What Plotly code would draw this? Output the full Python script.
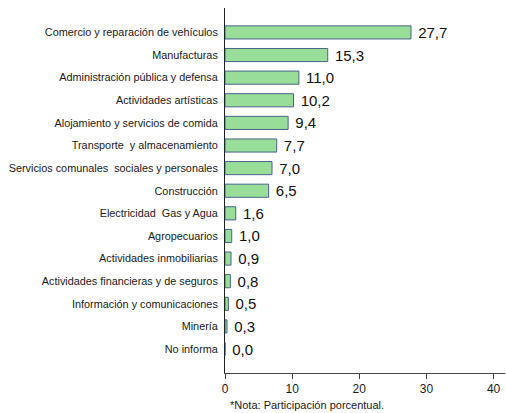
import plotly.graph_objects as go

categorias = [
    "Comercio y reparación de vehículos",
    "Manufacturas",
    "Administración pública y defensa",
    "Actividades artísticas",
    "Alojamiento y servicios de comida",
    "Transporte\u00a0 y almacenamiento",
    "Servicios comunales\u00a0 sociales y personales",
    "Construcción",
    "Electricidad\u00a0 Gas y Agua",
    "Agropecuarios",
    "Actividades inmobiliarias",
    "Actividades financieras y de seguros",
    "Información y comunicaciones",
    "Minería",
    "No informa",
]
valores = [27.7, 15.3, 11.0, 10.2, 9.4, 7.7, 7.0, 6.5, 1.6, 1.0, 0.9, 0.8, 0.5, 0.3, 0.0]
ticks_x = [0, 10, 20, 30, 40]
nota = "*Nota: Participación porcentual."

etiquetas = [" " + f"{v:.1f}".replace(".", ",") for v in valores]
fuente = "Liberation Sans, Arial, sans-serif"

fig = go.Figure(go.Bar(
    x=valores, y=categorias, orientation="h",
    marker=dict(color="#98DE98", line=dict(color="#46648A", width=1)),
    text=etiquetas, textposition="outside", cliponaxis=False, constraintext="none",
    textfont=dict(family=fuente, size=15, color="#111111"),
    width=0.58,
))

fig.update_layout(
    width=506, height=413,
    margin=dict(l=225, r=1, t=8, b=40, autoexpand=False),
    paper_bgcolor="white", plot_bgcolor="white",
    showlegend=False,
    font=dict(family=fuente, size=11, color="#1a1a1a"),
    xaxis=dict(range=[0, 41.7], tickvals=ticks_x, ticks="outside", ticklen=5,
               tickcolor="#444444", showline=True, linecolor="#444444", linewidth=1,
               showgrid=False, zeroline=False, tickfont=dict(size=12), automargin=False),
    yaxis=dict(categoryorder="array", categoryarray=categorias, automargin=False,
               range=[15.06, -1.08], showline=True, linecolor="#222222", linewidth=1,
               showgrid=False, ticks="", ticklabelstandoff=4, tickfont=dict(size=10.85)),
    annotations=[dict(text=nota, x=(228 - 225) / 280, y=(373 - 405) / 365,
                      xref="paper", yref="paper",
                      showarrow=False, font=dict(size=11, color="#1a1a1a"),
                      xanchor="left", yanchor="middle")],
)

fig.write_html(
    "out.html",
    config={"displayModeBar": False},
    post_script="document.body.style.margin='0';document.body.style.overflow='hidden';",
)
